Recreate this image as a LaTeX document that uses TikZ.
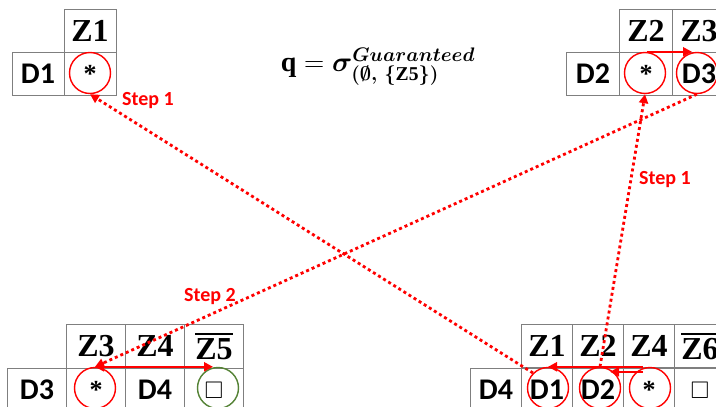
\RequirePackage{fix-cm}
\documentclass[tikz,border=0pt]{standalone}
\usepackage{fontspec}
\usepackage{amssymb}
\usepackage{bm}
\setmainfont{Liberation Serif}
\newfontfamily\calib{Carlito}
\usetikzlibrary{arrows.meta}

\definecolor{pptred}{RGB}{255,0,0}
\definecolor{pptgreen}{RGB}{84,130,53}
\definecolor{gridgray}{RGB}{127,127,127}

\tikzset{
  box/.style={draw=gridgray, line width=0.7pt, minimum width=#1, minimum height=43pt, inner sep=0pt},
  box/.default=52pt,
  zlab/.style={font=\fontsize{32}{32}\selectfont\bfseries},
  dlab/.style={font=\calib\fontsize{30}{30}\selectfont\bfseries},
  starlab/.style={font=\fontsize{26}{26}\selectfont\bfseries},
  sqlab/.style={font=\fontsize{24}{24}\selectfont},
  ring/.style={circle, draw=pptred, line width=1.4pt, minimum size=41pt, inner sep=0pt},
  greenring/.style={ring, draw=pptgreen},
  move/.style={pptred, line width=2.2pt},
  hop/.style={pptred, line width=2.8pt, dash pattern=on 3pt off 3pt},
  steplab/.style={text=pptred, font=\calib\fontsize{20}{20}\selectfont\bfseries},
  >={Triangle[length=9pt,width=9pt]}
}

\begin{document}
\begin{tikzpicture}[x=1pt,y=-1pt]
    \useasboundingbox (0,0) rectangle (716,407);

    % top left table
    \node[box, zlab] (a-z1) at (90,31) {Z1};
    \node[box, dlab] (a-d1) at (38,74) {D1};
    \node[box, starlab] (a-s) at (90,74) {*};

    % top right table
    \node[box=53pt, dlab] (b-d2) at (593,74) {D2};
    \node[box=53pt, zlab] (b-z2) at (646,31) {Z2};
    \node[box=53pt, starlab] (b-s) at (646,74) {*};
    \node[box=53pt, zlab] (b-z3) at (699,31) {Z3};
    \node[box=53pt, dlab] (b-d3) at (699,74) {D3};

    % bottom left table
    \node[box=59pt, minimum height=44pt, zlab] (c-z3) at (96,346) {Z3};
    \node[box=59pt, minimum height=44pt, zlab] (c-z4) at (155,346) {Z4};
    \node[box=59pt, minimum height=44pt, zlab] (c-z5) at (214,346) {$\overline{\hbox{Z5}}$};
    \node[box=59pt, minimum height=44pt, dlab] (c-d3) at (37,390) {D3};
    \node[box=59pt, minimum height=44pt, starlab] (c-s) at (96,390) {*};
    \node[box=59pt, minimum height=44pt, dlab] (c-d4) at (155,390) {D4};
    \node[box=59pt, minimum height=44pt, sqlab] (c-q) at (214,390) {$\square$};

    % bottom right table
    \node[box=51pt, zlab] (d-z1) at (547,346) {Z1};
    \node[box=51pt, zlab] (d-z2) at (598,346) {Z2};
    \node[box=51pt, zlab] (d-z4) at (649,346) {Z4};
    \node[box=51pt, zlab] (d-z6) at (700,346) {$\overline{\hbox{Z6}}$};
    \node[box=51pt, dlab] (d-d4) at (496,390) {D4};
    \node[box=51pt, dlab] (d-d1) at (547,390) {D1};
    \node[box=51pt, dlab] (d-d2) at (598,390) {D2};
    \node[box=51pt, starlab] (d-s) at (649,390) {*};
    \node[box=51pt, sqlab] (d-q) at (700,390) {$\square$};

    % circles
    \node[ring] (ra) at (90,73) {};
    \node[ring] (rb1) at (645,73) {};
    \node[ring] (rb2) at (697,73) {};
    \node[ring] (rc1) at (95,388) {};
    \node[greenring] (rc2) at (218,388) {};
    \node[ring] (rd1) at (548,388) {};
    \node[ring] (rd2) at (600,388) {};
    \node[ring] (rd3) at (650,388) {};

    % query
    \node (query) at (378,67) {\fontsize{28}{28}\selectfont
        $\mathbf{q} = \bm{\sigma}^{\bm{Guaranteed}}_{\bm{(\emptyset,\ \{}\mathbf{Z5}\bm{\})}}$};

    % solid arrows
    \draw[move,->] ([xshift=2pt]rb1.north) -- ([xshift=-5pt]rb2.north);
    \draw[move,<->] (rc1.north) -- ([xshift=-5pt]rc2.north);
    \draw[move,->] ([xshift=-7pt]rd3.north) -- (rd1.north);
    \draw[move,->] ([xshift=-7pt,yshift=-5pt]rd3.north) -- ([xshift=10pt,yshift=-5pt]rd2.north);

    % dotted steps
    \draw[hop,->] (rd1.north west) -- (ra.south);
    \draw[hop,->] (rd2.north) -- (rb1.south);
    \draw[hop,->] (rb2.south) -- (rc1.north);

    \node[steplab] (step-a) at (148,101) {Step 1};
    \node[steplab] (step-b) at (665,180) {Step 1};
    \node[steplab] (step-c) at (210,297) {Step 2};
\end{tikzpicture}
\end{document}
